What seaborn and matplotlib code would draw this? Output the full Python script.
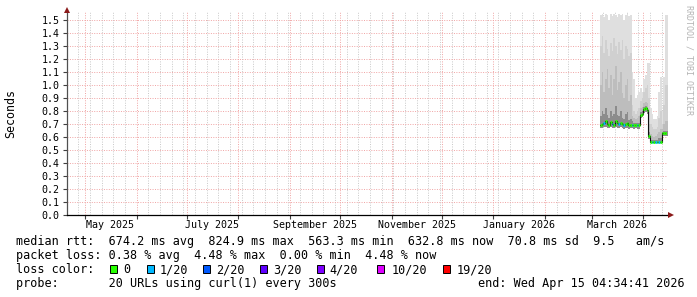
import matplotlib
matplotlib.use("Agg")
import matplotlib.pyplot as plt
import matplotlib.dates as mdates
from matplotlib.patches import Rectangle
import numpy as np
import pandas as pd
import seaborn as sns

# ---------------- data ----------------
dates = pd.date_range("2026-03-06", periods=41, freq="D")
median = [0.690, 0.700, 0.705, 0.720, 0.700, 0.695, 0.715, 0.700, 0.695, 0.720,
          0.705, 0.700, 0.710, 0.700, 0.695, 0.700, 0.705, 0.690, 0.690, 0.695,
          0.690, 0.690, 0.690, 0.690, 0.770, 0.780, 0.815, 0.825, 0.805, 0.610,
          0.563, 0.563, 0.563, 0.563, 0.563, 0.563, 0.563, 0.633, 0.633, 0.633, 0.633]
loss = [0, 0, 1, 0, 0, 0, 0, 1, 0, 0,
        0, 1, 0, 0, 1, 0, 0, 0, 0, 1,
        0, 0, 1, 0, 0, 0, 0, 0, 0, 0,
        0, 1, 0, 1, 0, 1, 0, 0, 0, 0, 0]
smoke_lo = [0.668, 0.672, 0.675, 0.678, 0.670, 0.668, 0.676, 0.670, 0.666, 0.680,
            0.672, 0.670, 0.674, 0.668, 0.665, 0.670, 0.672, 0.664, 0.666, 0.668,
            0.665, 0.666, 0.664, 0.665, 0.745, 0.752, 0.785, 0.795, 0.775, 0.585,
            0.552, 0.553, 0.552, 0.554, 0.552, 0.553, 0.552, 0.605, 0.610, 0.606, 0.606]
smoke_max = [1.54, 1.55, 1.52, 1.55, 1.54, 1.50, 1.55, 1.53, 1.55, 1.54,
             1.52, 1.55, 1.54, 1.55, 1.50, 1.54, 1.55, 1.53, 1.54, 1.10,
             1.05, 0.90, 0.92, 0.95, 0.98, 0.95, 1.05, 1.08, 1.17, 1.17,
             0.82, 0.78, 0.74, 0.74, 0.76, 0.95, 1.06, 0.80, 1.06, 1.54, 1.54]
smoke_p2 = [1.30, 1.38, 1.25, 1.35, 1.28, 1.22, 1.32, 1.26, 1.36, 1.30,
            1.24, 1.33, 1.27, 1.35, 1.20, 1.30, 1.28, 1.22, 1.25, 0.85,
            0.80, 0.78, 0.80, 0.82, 0.88, 0.90, 0.95, 0.98, 1.00, 0.90,
            0.70, 0.68, 0.66, 0.66, 0.68, 0.75, 0.80, 0.70, 0.85, 1.00, 1.00]
smoke_p3 = [1.00, 1.10, 0.95, 1.05, 1.12, 0.98, 1.08, 0.92, 1.05, 1.15,
            0.96, 1.02, 1.10, 0.94, 0.90, 1.00, 1.05, 0.88, 0.92, 0.76,
            0.75, 0.74, 0.75, 0.76, 0.82, 0.83, 0.86, 0.87, 0.86, 0.70,
            0.62, 0.61, 0.60, 0.61, 0.62, 0.64, 0.66, 0.66, 0.70, 0.72, 0.72]
smoke_p4 = [0.76, 0.80, 0.78, 0.82, 0.77, 0.75, 0.80, 0.76, 0.78, 0.84,
            0.77, 0.76, 0.80, 0.75, 0.74, 0.78, 0.79, 0.73, 0.74, 0.72,
            0.71, 0.71, 0.71, 0.71, 0.79, 0.80, 0.83, 0.84, 0.82, 0.64,
            0.58, 0.58, 0.58, 0.58, 0.58, 0.59, 0.59, 0.64, 0.65, 0.65, 0.65]

y_ticks = [0.0, 0.1, 0.2, 0.3, 0.4, 0.5, 0.6, 0.7, 0.8, 0.9, 1.0, 1.1, 1.2, 1.3, 1.4, 1.5]
month_labels = ["May 2025", "July 2025", "September 2025", "November 2025",
                "January 2026", "March 2026"]
month_label_dates = ["2025-05-16 06:00", "2025-07-16 06:00", "2025-09-16 06:00",
                     "2025-11-16 06:00", "2026-01-16 06:00", "2026-03-16 06:00"]
loss_levels = ["0", "1/20", "2/20", "3/20", "4/20", "10/20", "19/20"]
loss_colors = ["#26ff00", "#00b8ff", "#0059ff", "#5e00ff", "#7e00ff", "#dd00ff", "#ff0000"]
end_time = pd.Timestamp("2026-04-15 04:34:41")
start_time = end_time - pd.Timedelta(days=360)

line1 = "median rtt:  674.2 ms avg  824.9 ms max  563.3 ms min  632.8 ms now  70.8 ms sd  9.5   am/s"
line2 = "packet loss: 0.38 % avg  4.48 % max  0.00 % min  4.48 % now"
line4 = "probe:       20 URLs using curl(1) every 300s"
end_text = "end: Wed Apr 15 04:34:41 2026"

# ---------------- style ----------------
sns.set_theme(style="white")
plt.rcParams["font.family"] = ["DejaVu Sans Mono", "DejaVu Sans"]

W, H = 697, 297
fig = plt.figure(figsize=(W / 100, H / 100), dpi=100)
fig.patch.set_facecolor("white")
ymax = 1.56
ax = fig.add_axes([67 / W, 82 / H, 600 / W, (ymax * 130) / H])
ax.set_facecolor("white")

# smoke
day = pd.Timedelta(days=1)
x_edges = list(dates) + [dates[-1] + day]
def ext(a):
    return list(a) + [a[-1]]
for hi, col in [(smoke_max, "#dfdfdf"), (smoke_p2, "#d0d0d0"),
                (smoke_p3, "#bdbdbd"), (smoke_p4, "#8c8c8c")]:
    ax.fill_between(x_edges, ext(smoke_lo), ext(hi), step="post",
                    color=col, lw=0, zorder=2)

# median black step line
df = pd.DataFrame({"t": x_edges, "median": ext(median)})
sns.lineplot(data=df, x="t", y="median", drawstyle="steps-post", color="#101010",
             lw=0.8, sort=False, estimator=None, ax=ax, zorder=3)
# loss colored median segments
seg_cols = [loss_colors[l] for l in loss]
ax.hlines(median, dates, dates + day, colors=seg_cols, lw=2.0, zorder=4)

# axes limits and ticks
ax.set_xlim(start_time, end_time)
ax.set_ylim(0, ymax)
ax.set_xlabel("")
ax.set_ylabel("")
ax.set_yticks(y_ticks)
ax.set_yticklabels([f"{v:.1f}" for v in y_ticks])
ax.xaxis.set_major_locator(mdates.MonthLocator())
ax.xaxis.set_major_formatter(plt.NullFormatter())
ax.xaxis.set_minor_locator(mdates.WeekdayLocator(byweekday=mdates.SU))

ax.tick_params(axis="y", which="major", left=True, length=3, width=0.8,
               color="#404040", pad=2.5, labelsize=7.2, labelcolor="black")
ax.tick_params(axis="x", which="major", bottom=True, length=3, width=0.8,
               color="#404040", labelsize=7.2)
ax.tick_params(axis="x", which="minor", bottom=False, length=0)

ax.set_axisbelow(True)
ax.grid(which="minor", axis="x", color="#c8c8c8", linestyle=(0, (1, 1.5)), lw=0.7)
ax.grid(which="major", axis="both", color="#f0a4a4", linestyle=(0, (1, 1.5)), lw=0.7)

for s in ["top", "right"]:
    ax.spines[s].set_visible(False)
ax.spines["bottom"].set_color("black")
ax.spines["bottom"].set_linewidth(0.9)
ax.spines["left"].set_color("#505050")
ax.spines["left"].set_linewidth(0.9)
ax.spines["bottom"].set_zorder(5)
ax.spines["left"].set_zorder(5)

# arrows
ax.plot([1.006], [0], marker=">", ms=4.5, color="#8b1a1a", transform=ax.transAxes,
        clip_on=False, zorder=6, mew=0)
ax.plot([0], [1.012], marker="^", ms=4.5, color="#8b1a1a", transform=ax.transAxes,
        clip_on=False, zorder=6, mew=0)

# month labels
for lbl, d in zip(month_labels, month_label_dates):
    ax.text(pd.Timestamp(d), -0.047, lbl, transform=ax.get_xaxis_transform(),
            ha="center", va="center", fontsize=7.2, color="black")

# y label and watermark
fig.text(10.5 / W, 1 - 114 / H, "Seconds", rotation=90, ha="center", va="center",
         fontsize=8.4, color="black")
fig.text(688.5 / W, 1 - 60 / H, "RRDTOOL / TOBI OETIKER", rotation=270,
         ha="center", va="center", fontsize=6.0, color="#b4b4b4")

# legend lines
fs = 8.5
def ftext(x, y, s, **kw):
    fig.text(x / W, 1 - y / H, s, fontsize=fs, va="baseline", ha="left",
             color="black", **kw)

ftext(16, 245.5, line1)
ftext(16, 259.4, line2)
ftext(16, 273.3, "loss color:")
box_x = [110, 146.7, 203, 260, 316.7, 377, 442.7]
lbl_x = [123.5, 159.5, 216.5, 273, 329.5, 392, 457]
for bx, lx, lvl, col in zip(box_x, lbl_x, loss_levels, loss_colors):
    fig.patches.append(Rectangle((bx / W, 1 - 273.3 / H), 7 / W, 8 / H,
                                 transform=fig.transFigure, facecolor=col,
                                 edgecolor="black", lw=0.7))
    ftext(lx, 273.3, lvl)
ftext(16, 287.2, line4)
ftext(478, 287.2, end_text)

fig.savefig("out.png", dpi=100, facecolor="white")
